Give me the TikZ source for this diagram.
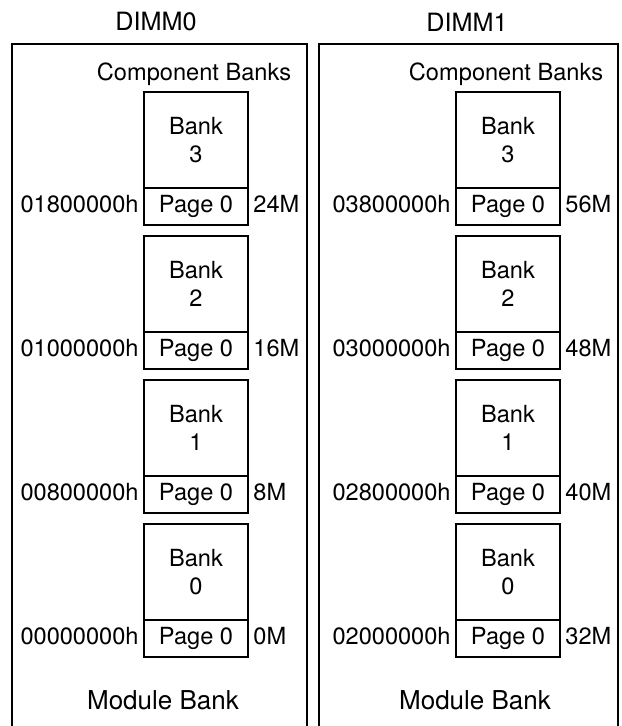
\documentclass[tikz,border=0pt]{standalone}
\usepackage{fontspec}
\setmainfont{TeX Gyre Heros}
\usepackage{tikz}
\usetikzlibrary{positioning}

\tikzset{
  bankbox/.style={draw, line width=1pt, minimum width=52pt, minimum height=48pt, inner sep=0pt, outer sep=0pt, align=center},
  pagebox/.style={draw, line width=1pt, minimum width=52pt, minimum height=18.5pt, inner sep=0pt, outer sep=0pt, text height=8.7pt, text depth=2.5pt},
  addr/.style={inner sep=2.5pt, text height=8.7pt, text depth=2.5pt},
  modbox/.style={line width=1pt},
  dimmlabel/.style={font=\fontsize{12.6}{15}\selectfont},
  modlabel/.style={font=\fontsize{13}{15}\selectfont}
}

\begin{document}
\begin{tikzpicture}[x=0.5pt, y=-0.5pt, font=\fontsize{11.8}{14}\selectfont]
    \useasboundingbox (0,0) rectangle (621,726);
    \clip (0,0) rectangle (621,726);

    % DIMM0
    \node[dimmlabel] (dimm0) at (156,22) {DIMM0};
    \draw[modbox] (12,44) rectangle (307,800);
    \node (comp0) at (194,74) {Component Banks};
    \foreach \i/\addr/\size [count=\k from 0] in {3/01800000h/24M, 2/01000000h/16M, 1/00800000h/8M, 0/00000000h/0M} {
        \node[bankbox, anchor=north] (bankA\i) at (196, 92+\k*144) {Bank\\\i};
        \node[pagebox, anchor=north] (pageA\i) at (bankA\i.south) {Page 0};
        \node[addr, left=0pt of pageA\i] (addrA\i) {\addr};
        \node[addr, right=0pt of pageA\i] (sizeA\i) {\size};
    }
    \node[modlabel] (mod0) at (163,700) {Module Bank};

    % DIMM1
    \node[dimmlabel] (dimm1) at (467,22) {DIMM1};
    \draw[modbox] (319,44) rectangle (618,800);
    \node (comp1) at (506,74) {Component Banks};
    \foreach \i/\addr/\size [count=\k from 0] in {3/03800000h/56M, 2/03000000h/48M, 1/02800000h/40M, 0/02000000h/32M} {
        \node[bankbox, anchor=north] (bankB\i) at (508, 92+\k*144) {Bank\\\i};
        \node[pagebox, anchor=north] (pageB\i) at (bankB\i.south) {Page 0};
        \node[addr, left=0pt of pageB\i] (addrB\i) {\addr};
        \node[addr, right=0pt of pageB\i] (sizeB\i) {\size};
    }
    \node[modlabel] (mod1) at (475,700) {Module Bank};
\end{tikzpicture}
\end{document}
